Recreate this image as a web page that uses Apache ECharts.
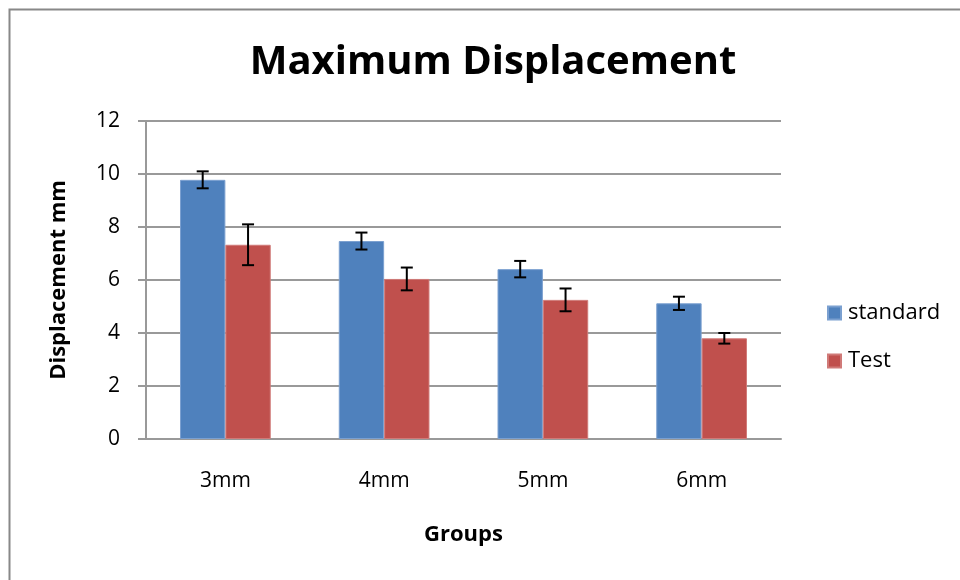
<!DOCTYPE html>
<html>
<head>
<meta charset="utf-8">
<script src="https://cdn.jsdelivr.net/npm/echarts@6/dist/echarts.min.js"></script>
<style>html,body{margin:0;padding:0;background:#fff}#c{width:960px;height:580px}</style>
</head>
<body>
<div id="c"></div>
<script>
var categories = ['3mm', '4mm', '5mm', '6mm'];
var standardValues = [9.78, 7.47, 6.41, 5.12];
var testValues = [7.33, 6.04, 5.25, 3.80];
var standardErr = [0.32, 0.32, 0.31, 0.25];
var testErr = [0.77, 0.43, 0.43, 0.20];
var yTicks = [0, 2, 4, 6, 8, 10, 12];

var FONT = '"Open Sans", "Noto Sans", sans-serif';
var chart = echarts.init(document.getElementById('c'));

function errSeries(values, errs, side) {
  return {
    type: 'custom',
    z: 10,
    silent: true,
    data: values.map(function (v, i) { return [i, v, errs[i]]; }),
    renderItem: function (params, api) {
      var i = api.value(0), v = api.value(1), e = api.value(2);
      var band = api.size([1, 0])[0];
      var bw = band / 3.5;
      var c = api.coord([i, v]);
      var x = c[0] + side * bw / 2;
      var top = api.coord([i, v + e])[1];
      var bot = api.coord([i, v - e])[1];
      var cap = 6;
      var st = { stroke: '#000', lineWidth: 2 };
      return {
        type: 'group',
        children: [
          { type: 'line', shape: { x1: x, y1: top, x2: x, y2: bot }, style: st },
          { type: 'line', shape: { x1: x - cap, y1: top, x2: x + cap, y2: top }, style: st },
          { type: 'line', shape: { x1: x - cap, y1: bot, x2: x + cap, y2: bot }, style: st }
        ]
      };
    }
  };
}

chart.setOption({
  animation: false,
  backgroundColor: '#fff',
  title: {
    text: 'Maximum Displacement',
    left: 488, top: 38, textAlign: 'center',
    textStyle: { fontFamily: FONT, fontSize: 40, fontWeight: 'bold', color: '#000' }
  },
  graphic: [{
    type: 'rect', left: 7, top: 7,
    shape: { width: 1000, height: 620 },
    style: { fill: 'none', stroke: '#888', lineWidth: 2 }, silent: true
  }],
  legend: {
    orient: 'vertical', left: 822, top: 297, itemGap: 26,
    itemWidth: 13, itemHeight: 13, icon: 'rect',
    textStyle: { fontFamily: FONT, fontSize: 22, color: '#000', padding: [0, 0, 0, 2] },
    data: ['standard', 'Test']
  },
  grid: { left: 146, right: 179, top: 121, bottom: 141 },
  xAxis: {
    type: 'category', data: categories,
    name: 'Groups', nameLocation: 'middle', nameGap: 85,
    nameTextStyle: { fontFamily: FONT, fontSize: 22, fontWeight: 'bold', color: '#000' },
    axisLine: { lineStyle: { color: '#999', width: 2 } },
    axisTick: { show: false },
    axisLabel: { fontFamily: FONT, fontSize: 21, color: '#000', margin: 32 }
  },
  yAxis: {
    type: 'value', min: 0, max: 12, interval: 2,
    name: 'Displacement mm', nameLocation: 'middle', nameGap: 76,
    nameTextStyle: { fontFamily: FONT, fontSize: 22, fontWeight: 'bold', color: '#000' },
    axisLine: { show: true, lineStyle: { color: '#999', width: 2 } },
    axisTick: { show: true, inside: false, length: 8, lineStyle: { color: '#999', width: 2 } },
    axisLabel: {
      fontFamily: FONT, fontSize: 21, color: '#000', margin: 26,
      formatter: function (v) { return yTicks.indexOf(v) >= 0 ? String(v) : ''; }
    },
    splitLine: { lineStyle: { color: '#999', width: 2 } }
  },
  series: [
    {
      name: 'standard', type: 'bar', data: standardValues,
      barGap: '0%', barCategoryGap: '42.857%',
      itemStyle: { color: '#4F81BD', borderColor: '#7BA0D0', borderWidth: 1 }
    },
    {
      name: 'Test', type: 'bar', data: testValues,
      barGap: '0%', barCategoryGap: '42.857%',
      itemStyle: { color: '#C0504D', borderColor: '#D07A78', borderWidth: 1 }
    },
    errSeries(standardValues, standardErr, -1),
    errSeries(testValues, testErr, 1)
  ]
});
</script>
</body>
</html>
